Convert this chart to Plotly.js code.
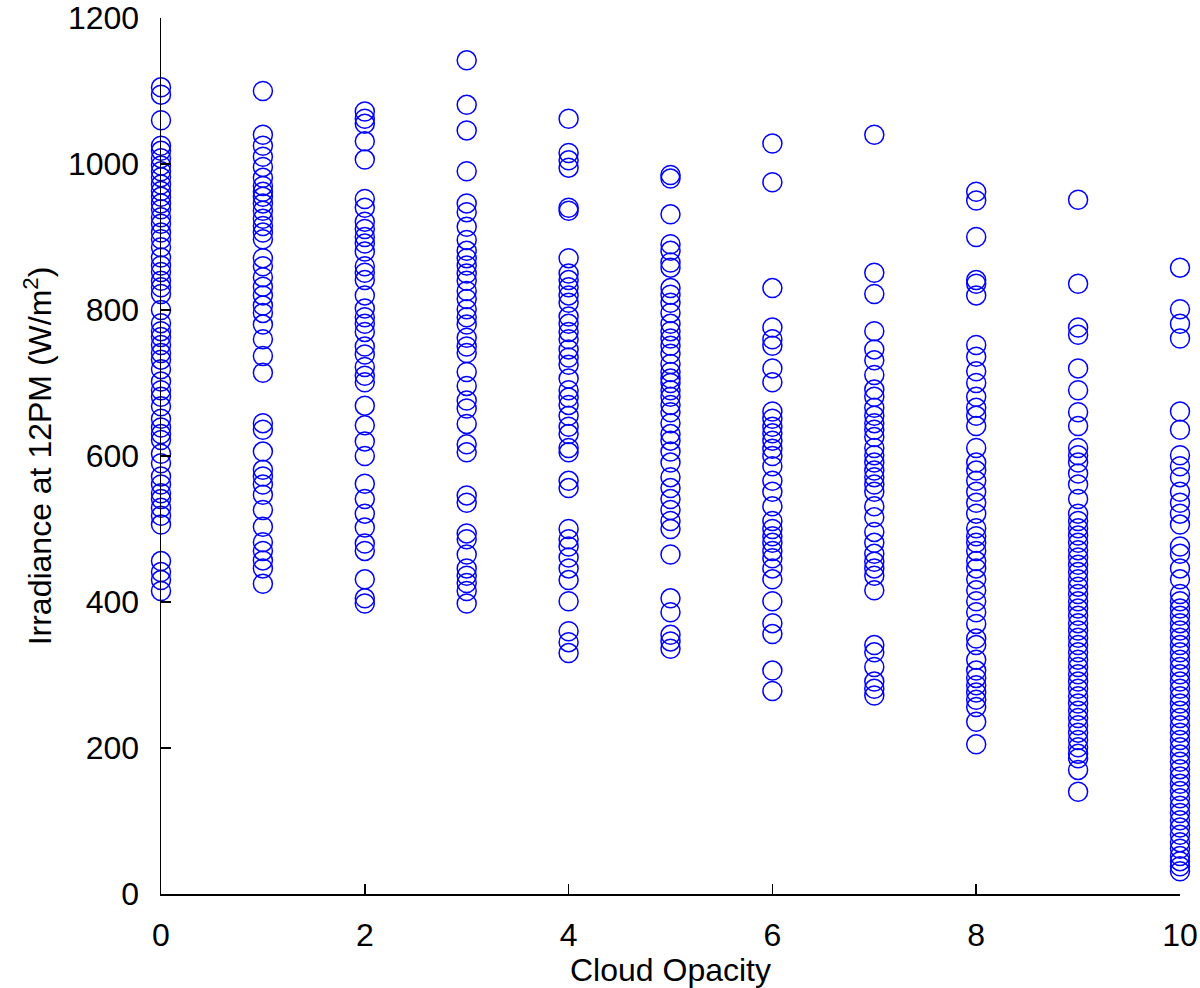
<!DOCTYPE html>
<html>
<head>
<meta charset="utf-8">
<script src="https://cdn.plot.ly/plotly-3.0.1.min.js"></script>
<style>html,body{margin:0;padding:0;background:#fff;}#chart{width:1200px;height:988px;}</style>
</head>
<body>
<div id="chart"></div>
<script>
const cloudOpacity = [0, 1, 2, 3, 4, 5, 6, 7, 8, 9, 10];

const irr0 = [1105, 1095, 1060, 1025, 1018, 1008, 998, 990, 982, 972, 963, 955, 946, 938, 927, 918, 906, 897, 886, 872, 861, 852, 840, 831, 822, 800, 782, 771, 763, 752, 741, 732, 719, 702, 690, 681, 668, 651, 639, 630, 622, 603, 590, 572, 561, 549, 541, 529, 518, 506, 456, 441, 430, 415];
const irr1 = [1100, 1040, 1025, 1010, 996, 981, 970, 962, 955, 946, 936, 925, 915, 906, 897, 871, 860, 845, 832, 820, 806, 796, 780, 760, 737, 714, 645, 636, 606, 581, 572, 561, 547, 526, 503, 482, 470, 457, 446, 425];
const irr2 = [1072, 1062, 1055, 1031, 1006, 952, 940, 921, 911, 900, 891, 880, 860, 851, 841, 820, 802, 790, 781, 770, 750, 739, 722, 710, 701, 669, 642, 620, 600, 562, 541, 521, 502, 480, 470, 431, 405, 398];
const irr3 = [1142, 1081, 1046, 990, 946, 934, 914, 896, 881, 871, 861, 850, 840, 826, 815, 801, 790, 780, 762, 750, 741, 715, 696, 676, 665, 644, 616, 605, 546, 536, 494, 486, 465, 446, 436, 426, 415, 398];
const irr4 = [1062, 1015, 1005, 995, 940, 936, 871, 850, 841, 831, 820, 810, 791, 781, 770, 760, 746, 735, 725, 706, 690, 680, 670, 655, 640, 630, 611, 605, 566, 556, 500, 486, 476, 461, 446, 430, 401, 360, 345, 330];
const irr5 = [985, 980, 931, 890, 881, 865, 858, 830, 821, 810, 796, 781, 771, 761, 751, 740, 726, 715, 706, 700, 690, 681, 670, 660, 645, 630, 621, 606, 591, 571, 556, 541, 526, 511, 500, 465, 405, 386, 355, 346, 336];
const irr6 = [1028, 975, 830, 776, 760, 751, 720, 701, 661, 651, 640, 631, 621, 610, 600, 586, 566, 551, 531, 511, 500, 490, 481, 470, 460, 446, 431, 401, 371, 356, 306, 278];
const irr7 = [1040, 851, 822, 771, 746, 731, 711, 691, 681, 666, 655, 645, 636, 626, 611, 601, 591, 580, 571, 561, 551, 531, 516, 496, 481, 466, 455, 446, 436, 416, 341, 331, 311, 291, 281, 272];
const irr8 = [962, 950, 900, 841, 836, 820, 752, 736, 716, 700, 681, 666, 655, 641, 611, 591, 580, 566, 551, 536, 521, 501, 490, 481, 470, 456, 446, 431, 416, 401, 386, 370, 350, 341, 321, 306, 296, 286, 276, 266, 256, 236, 205];
const irr9 = [951, 836, 776, 766, 720, 690, 660, 641, 611, 601, 591, 576, 561, 541, 521, 511, 501, 491, 481, 471, 461, 451, 441, 431, 421, 411, 401, 391, 381, 371, 361, 351, 341, 331, 321, 311, 301, 291, 281, 271, 261, 251, 241, 231, 221, 211, 201, 192, 186, 170, 140];
const irr10 = [858, 801, 781, 761, 661, 636, 601, 586, 571, 551, 536, 521, 506, 476, 466, 446, 431, 411, 401, 391, 381, 371, 361, 351, 341, 331, 321, 311, 301, 291, 281, 271, 261, 251, 241, 231, 221, 211, 201, 191, 181, 171, 161, 151, 141, 131, 121, 111, 101, 91, 81, 71, 62, 52, 45, 38, 31];

const irrByOpacity = [irr0, irr1, irr2, irr3, irr4, irr5, irr6, irr7, irr8, irr9, irr10];

const xTicks = [0, 2, 4, 6, 8, 10];
const yTicks = [0, 200, 400, 600, 800, 1000, 1200];

const xs = [], ys = [];
irrByOpacity.forEach((vals, i) => {
  vals.forEach(v => { xs.push(cloudOpacity[i]); ys.push(v); });
});

const fontFam = 'Liberation Sans, Arial, sans-serif';
const fs = 32;

const trace = {
  type: 'scatter',
  mode: 'markers',
  x: xs,
  y: ys,
  cliponaxis: false,
  marker: {
    symbol: 'circle-open',
    size: 19,
    color: '#0000ff',
    line: {width: 1.5, color: '#0000ff'}
  },
  hoverinfo: 'x+y'
};

const layout = {
  width: 1200,
  height: 988,
  margin: {l: 161, r: 20, t: 18, b: 94},
  paper_bgcolor: '#ffffff',
  plot_bgcolor: '#ffffff',
  showlegend: false,
  font: {family: fontFam, size: fs, color: '#000'},
  xaxis: {
    range: [0, 10],
    tickvals: xTicks,
    ticktext: xTicks.map(String),
    ticks: 'inside',
    ticklen: 10,
    tickwidth: 1.5,
    tickcolor: '#000',
    ticklabelstandoff: 12,
    showline: true,
    linecolor: '#000',
    linewidth: 1.5,
    showgrid: false,
    zeroline: false,
    tickfont: {family: fontFam, size: fs},
    title: {text: 'Cloud Opacity', font: {family: fontFam, size: fs}, standoff: 2}
  },
  yaxis: {
    range: [0, 1200],
    tickvals: yTicks,
    ticktext: yTicks.map(String),
    ticks: 'inside',
    ticklen: 10,
    tickwidth: 1.5,
    tickcolor: '#000',
    ticklabelstandoff: 14,
    showline: true,
    linecolor: '#000',
    linewidth: 1.5,
    showgrid: false,
    zeroline: false,
    tickfont: {family: fontFam, size: fs},
    title: {text: 'Irradiance at 12PM (W/m<sup>2</sup>)', font: {family: fontFam, size: fs}, standoff: 6}
  }
};

Plotly.newPlot('chart', [trace], layout, {displayModeBar: false, staticPlot: true});
</script>
</body>
</html>
